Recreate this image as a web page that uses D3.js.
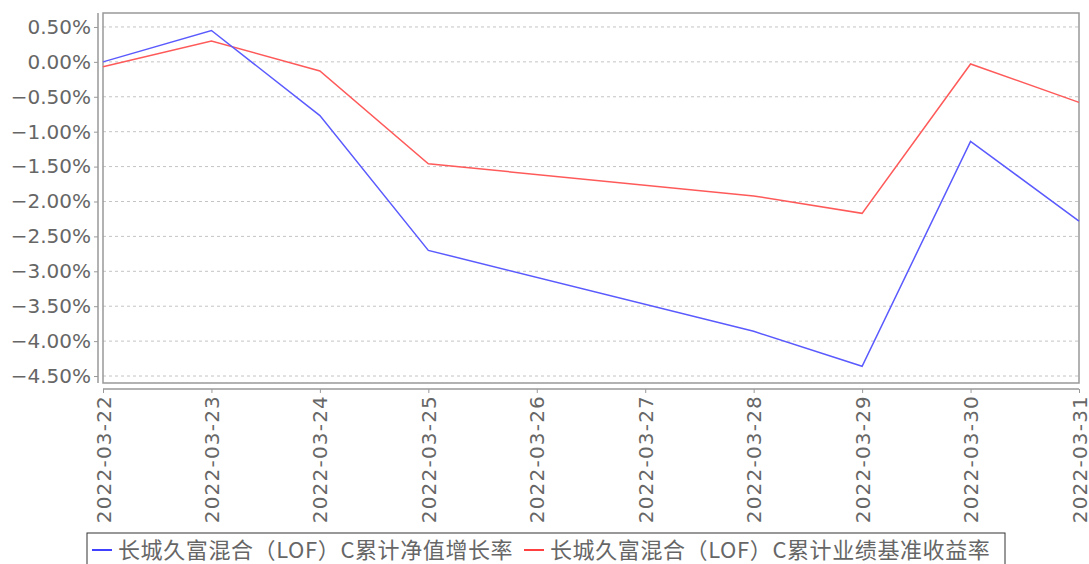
<!DOCTYPE html>
<html>
<head>
<meta charset="UTF-8" />
<script src="https://cdn.jsdelivr.net/npm/d3@7/dist/d3.min.js"></script>
<style>
  body { margin: 0; background: #fff; }
  svg { display: block; }
</style>
</head>
<body>
<svg id="chart" width="1089" height="564"></svg>
<script>
// trading days only (03-26, 03-27 weekend)
var dates = ["2022-03-22", "2022-03-23", "2022-03-24", "2022-03-25", "2022-03-28", "2022-03-29", "2022-03-30", "2022-03-31"]
var navGrowth = [0.00, 0.45, -0.77, -2.70, -3.86, -4.36, -1.14, -2.28]
var benchGrowth = [-0.07, 0.30, -0.13, -1.46, -1.92, -2.17, -0.03, -0.58]
var tickDates = ["2022-03-22", "2022-03-23", "2022-03-24", "2022-03-25", "2022-03-26", "2022-03-27", "2022-03-28", "2022-03-29", "2022-03-30", "2022-03-31"]
var yTicks = [0.5, 0, -0.5, -1, -1.5, -2, -2.5, -3, -3.5, -4, -4.5]
var seriesNames = ["长城久富混合（LOF）C累计净值增长率", "长城久富混合（LOF）C累计业绩基准收益率"]

var parse = d3.timeParse("%Y-%m-%d")
var svg = d3.select("#chart")
var plotL = 103, plotR = 1079, plotT = 13, plotB = 383

var xScale = d3.scaleTime()
  .domain([parse(tickDates[0]), parse(tickDates[tickDates.length - 1])])
  .range([plotL, plotR])
var yScale = d3.scaleLinear().domain([-4.6, 0.7]).range([plotB, plotT])

var fontTick = "'DejaVu Sans', sans-serif"
var textColor = "#666"

// grid
svg.append("g").selectAll("line.grid")
  .data(yTicks)
  .enter()
  .append("line")
    .attr("x1", plotL)
    .attr("x2", plotR)
    .attr("y1", d => yScale(d))
    .attr("y2", d => yScale(d))
    .attr("stroke", "#c4c4c4")
    .attr("stroke-width", 1)
    .attr("stroke-dasharray", "3,3")

// plot frame
svg.append("rect")
  .attr("x", plotL)
  .attr("y", plotT)
  .attr("width", plotR - plotL)
  .attr("height", plotB - plotT)
  .attr("fill", "none")
  .attr("stroke", "#999")
  .attr("stroke-width", 1.5)

// y axis, offset to the left
var yAxis = d3.axisLeft(yScale)
  .tickValues(yTicks)
  .tickSize(4)
  .tickPadding(3)
  .tickFormat(d => d3.format(".2f")(d).replace("-", "\u2212") + "%")
var yG = svg.append("g").attr("transform", "translate(98,0)").call(yAxis)
yG.select(".domain").attr("stroke", "#999").attr("stroke-width", 1.5).attr("d", "M0," + plotT + "V" + plotB)
yG.selectAll(".tick line").attr("stroke", "#999")
yG.selectAll("text")
  .style("font-family", fontTick)
  .style("font-size", "20px")
  .style("fill", textColor)

// x axis, offset below
var xAxis = d3.axisBottom(xScale)
  .tickValues(tickDates.map(parse))
  .tickSize(4)
  .tickFormat(d3.timeFormat("%Y-%m-%d"))
var xG = svg.append("g").attr("transform", "translate(0,389)").call(xAxis)
xG.select(".domain").attr("stroke", "#999").attr("stroke-width", 1.5).attr("d", "M" + plotL + ",0H" + plotR)
xG.selectAll(".tick line").attr("stroke", "#999")
xG.selectAll("text")
  .attr("transform", "rotate(-90)")
  .attr("x", -6)
  .attr("y", 0)
  .attr("dy", "0.35em")
  .style("text-anchor", "end")
  .style("font-family", fontTick)
  .style("font-size", "20px")
  .style("letter-spacing", "1.2px")
  .style("fill", textColor)

// lines
var line = d3.line()
  .x((d, i) => xScale(parse(dates[i])))
  .y(d => yScale(d))

svg.append("path")
  .attr("d", line(benchGrowth))
  .attr("fill", "none")
  .attr("stroke", "#ff5a5a")
  .attr("stroke-width", 1.5)

svg.append("path")
  .attr("d", line(navGrowth))
  .attr("fill", "none")
  .attr("stroke", "#5a5aff")
  .attr("stroke-width", 1.5)

// legend
var legend = svg.append("g")
legend.append("rect")
  .attr("x", 87)
  .attr("y", 533)
  .attr("width", 918)
  .attr("height", 40)
  .attr("fill", "#fff")
  .attr("stroke", "#333")
  .attr("stroke-width", 1)

var legendColors = ["#0000ff", "#ff0000"]
var legendX = [92, 524]
seriesNames.forEach(function(name, i) {
  legend.append("line")
    .attr("x1", legendX[i])
    .attr("x2", legendX[i] + 20)
    .attr("y1", 550)
    .attr("y2", 550)
    .attr("stroke", legendColors[i])
    .attr("stroke-width", 1.5)
  legend.append("text")
    .attr("x", legendX[i] + 26)
    .attr("y", 558)
    .text(name)
    .style("font-family", "'Noto Sans CJK SC', sans-serif")
    .style("font-size", "22px")
    .style("letter-spacing", "0.6px")
    .style("fill", textColor)
})
</script>
</body>
</html>
